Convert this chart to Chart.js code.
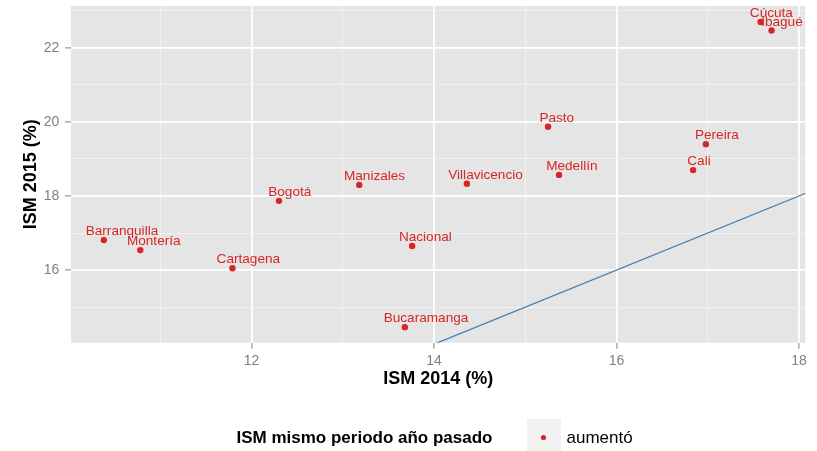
<!DOCTYPE html>
<html><head><meta charset="utf-8">
<script src="https://cdn.jsdelivr.net/npm/chart.js@4"></script>
<style>html,body{margin:0;padding:0;background:#fff;} #wrap{width:817px;height:451px;position:relative;overflow:hidden;}</style>
</head><body><div id="wrap"><canvas id="c" width="817" height="451"></canvas></div>
<script>
const cities  = ['Barranquilla','Montería','Cartagena','Bogotá','Manizales','Villavicencio','Nacional','Bucaramanga','Pasto','Medellín','Pereira','Cali','Cúcuta','Ibagué'];
const ism2014 = [10.38,10.78,11.79,12.30,13.18,14.36,13.76,13.68,15.25,15.37,16.98,16.84,17.58,17.70];
const ism2015 = [16.81,16.54,16.05,17.87,18.30,18.33,16.65,14.46,19.87,18.57,19.40,18.70,22.70,22.47];
const xTickLabels = [12,14,16,18];
const yTickLabels = [16,18,20,22];
const xTitle = 'ISM 2014 (%)';
const yTitle = 'ISM 2015 (%)';
const legendTitle = 'ISM mismo periodo año pasado';
const legendLabel = 'aumentó';
const identityRange = [13, 19];

const RED = '#D82626';
const BLUE = '#3F7FB8';
const FONT = "'Liberation Sans', Arial, Helvetica, sans-serif";
Chart.defaults.font.family = FONT;

const isMajor = (list, v) => list.includes(Math.round(v*1000)/1000);

const panelBg = {
  id: 'panelBg',
  beforeDraw(chart) {
    const {ctx, chartArea: a} = chart;
    ctx.save();
    ctx.fillStyle = '#E5E5E5';
    ctx.fillRect(a.left, a.top, a.right - a.left, a.bottom - a.top);
    ctx.restore();
  }
};

const pointLabels = {
  id: 'pointLabels',
  afterDatasetsDraw(chart) {
    const {ctx} = chart;
    const meta = chart.getDatasetMeta(0);
    ctx.save();
    ctx.font = '13.6px ' + FONT;
    ctx.fillStyle = RED;
    ctx.textBaseline = 'alphabetic';
    ctx.textAlign = 'left';
    meta.data.forEach((el, i) => {
      const t = cities[i];
      const w = ctx.measureText(t).width;
      ctx.fillText(t, el.x - 0.25 * w, el.y - 4.8);
    });
    ctx.restore();
  }
};

const legendPlugin = {
  id: 'ggLegend',
  afterDraw(chart) {
    const {ctx} = chart;
    ctx.save();
    ctx.fillStyle = '#000';
    ctx.font = 'bold 17px ' + FONT;
    ctx.textBaseline = 'alphabetic';
    ctx.textAlign = 'left';
    ctx.fillText(legendTitle, 236.5, 443.3);
    ctx.fillStyle = '#F2F2F2';
    ctx.fillRect(527, 419, 34, 34);
    ctx.fillStyle = RED;
    ctx.beginPath();
    ctx.arc(543.5, 437.5, 2.6, 0, Math.PI * 2);
    ctx.fill();
    ctx.fillStyle = '#000';
    ctx.font = '17px ' + FONT;
    ctx.fillText(legendLabel, 566.5, 443.3);
    ctx.restore();
  }
};

new Chart(document.getElementById('c'), {
  type: 'scatter',
  data: {
    datasets: [
      {
        label: legendLabel,
        data: cities.map((c, i) => ({x: ism2014[i], y: ism2015[i]})),
        backgroundColor: RED,
        borderWidth: 0,
        pointRadius: 3.2,
        order: 1
      },
      {
        type: 'line',
        label: 'y = x',
        data: identityRange.map(v => ({x: v, y: v})),
        borderColor: BLUE,
        borderWidth: 1.3,
        pointRadius: 0,
        fill: false,
        order: 2
      }
    ]
  },
  options: {
    responsive: false,
    animation: false,
    devicePixelRatio: 1,
    layout: {padding: {top: 6, right: 11.7, bottom: 0, left: 0}},
    plugins: {legend: {display: false}, tooltip: {enabled: false}},
    scales: {
      x: {
        type: 'linear',
        min: 10.02, max: 18.07,
        afterFit: s => { s.height = 108.3; s.paddingLeft = 0; s.paddingRight = 0; },
        border: {display: false},
        grid: {
          color: c => isMajor(xTickLabels, c.tick.value) ? '#FFFFFF' : '#F2F2F2',
          lineWidth: c => isMajor(xTickLabels, c.tick.value) ? 1.8 : 0.9,
          tickColor: c => isMajor(xTickLabels, c.tick.value) ? '#7F7F7F' : 'rgba(0,0,0,0)',
          tickLength: 6,
          tickWidth: 1
        },
        ticks: {
          stepSize: 1, includeBounds: false, autoSkip: false, maxRotation: 0,
          color: '#7F7F7F', font: {size: 14}, padding: 4,
          callback: v => isMajor(xTickLabels, v) ? String(v) : ''
        },
        title: {display: true, text: xTitle, color: '#000', font: {size: 18, weight: 'bold'}, padding: {top: 0, bottom: 61}}
      },
      y: {
        type: 'linear',
        min: 14.04, max: 23.13,
        afterFit: s => { s.width = 71; s.paddingTop = 0; s.paddingBottom = 0; },
        border: {display: false},
        grid: {
          color: c => isMajor(yTickLabels, c.tick.value) ? '#FFFFFF' : '#F2F2F2',
          lineWidth: c => isMajor(yTickLabels, c.tick.value) ? 1.8 : 0.9,
          tickColor: c => isMajor(yTickLabels, c.tick.value) ? '#7F7F7F' : 'rgba(0,0,0,0)',
          tickLength: 6,
          tickWidth: 1
        },
        ticks: {
          stepSize: 1, includeBounds: false, autoSkip: false,
          color: '#7F7F7F', font: {size: 14}, padding: 5.7,
          callback: v => isMajor(yTickLabels, v) ? String(v) : ''
        },
        title: {display: true, text: yTitle, color: '#000', font: {size: 18, weight: 'bold'}, padding: {top: 20, bottom: 0}}
      }
    }
  },
  plugins: [panelBg, pointLabels, legendPlugin]
});
</script>
</body></html>
